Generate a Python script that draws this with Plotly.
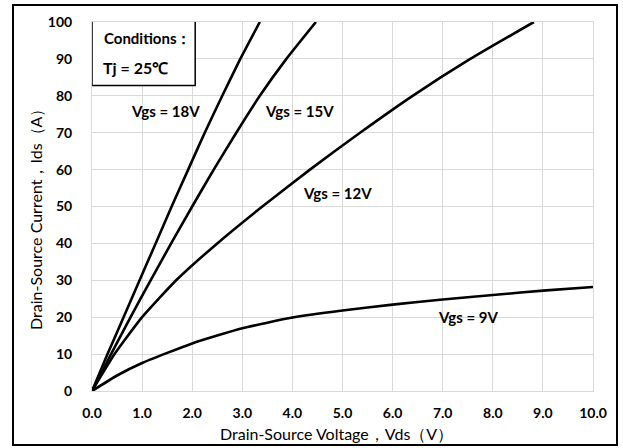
import plotly.graph_objects as go

# Data
vds_18 = [0, 0.31, 0.63, 0.95, 1.27, 1.59, 1.92, 2.25, 2.6, 2.96, 3.35]
ids_18 = [0, 10, 20, 30, 40, 50, 60, 70, 80, 90, 100]

vds_15 = [0, 0.38, 0.77, 1.17, 1.58, 2.0, 2.43, 2.88, 3.35, 3.88, 4.47]
ids_15 = [0, 10, 20, 30, 40, 50, 60, 70, 80, 90, 100]

vds_12 = [0, 0.45, 1.0, 1.68, 2.5, 3.4, 4.35, 5.35, 6.4, 7.55, 8.82]
ids_12 = [0, 10, 20, 30, 40, 50, 60, 70, 80, 90, 100]

vds_9 = [0, 0.5, 1, 2, 3, 4, 5, 6, 7, 8, 9, 10]
ids_9 = [0, 4.2, 7.6, 12.9, 17.0, 19.9, 21.8, 23.4, 24.8, 26.0, 27.2, 28.2]

series = [
    ("Vgs = 18V", vds_18, ids_18),
    ("Vgs = 15V", vds_15, ids_15),
    ("Vgs = 12V", vds_12, ids_12),
    ("Vgs = 9V", vds_9, ids_9),
]

label_text = ["Vgs = 18V", "Vgs = 15V", "Vgs = 12V", "Vgs = 9V"]
label_x = [1.46, 4.14, 4.91, 7.5]
label_y = [75.8, 75.8, 53.7, 20.0]

x_ticks = [0, 1, 2, 3, 4, 5, 6, 7, 8, 9, 10]
y_ticks = [0, 10, 20, 30, 40, 50, 60, 70, 80, 90, 100]

x_title = "Drain-Source Voltage，Vds（V）"
y_title = "Drain-Source Current，Ids（A）"

FONT = "Lato"

fig = go.Figure()
for name, xs, ys in series:
    fig.add_trace(go.Scatter(
        x=xs, y=ys, mode="lines", name=name,
        line=dict(color="black", width=2.6, shape="spline", smoothing=0.5),
        showlegend=False, hoverinfo="skip"))

for t, lx, ly in zip(label_text, label_x, label_y):
    fig.add_annotation(x=lx, y=ly, text="<b>" + t + "</b>", showarrow=False,
                       font=dict(family=FONT, size=15, color="black"),
                       xanchor="center", yanchor="middle")

# Conditions box
fig.add_shape(type="rect", xref="x", yref="y", x0=0, x1=2.06, y0=82.8, y1=100.4,
              line=dict(color="black", width=1.5), fillcolor="white", layer="above")
fig.add_annotation(x=0.2, y=95.7, xref="x", yref="y", text="<b>Conditions：</b>",
                   showarrow=False, xanchor="left", yanchor="middle",
                   font=dict(family=FONT, size=15, color="black"))
fig.add_annotation(x=0.18, y=87.8, xref="x", yref="y", text="<b>Tj = 25℃</b>",
                   showarrow=False, xanchor="left", yanchor="middle",
                   font=dict(family=FONT, size=16, color="black"))

# Axis titles
fig.add_annotation(x=0.489, y=-0.116, xref="paper", yref="paper", text=x_title,
                   showarrow=False, xanchor="center", yanchor="middle",
                   font=dict(family=FONT, size=16, color="black"))
fig.add_annotation(x=-0.112, y=0.477, xref="paper", yref="paper", text=y_title,
                   showarrow=False, xanchor="center", yanchor="middle", textangle=-90,
                   font=dict(family=FONT, size=16, color="black"))

# Outer chart border
fig.add_shape(type="rect", xref="paper", yref="paper",
              x0=-0.1577, x1=1.0479, y0=-0.1466, y1=1.0461,
              line=dict(color="black", width=2), layer="above")

fig.update_layout(
    width=623, height=448,
    margin=dict(l=92, r=30, t=22, b=57, autoexpand=False),
    paper_bgcolor="white", plot_bgcolor="white",
    font=dict(family=FONT, color="black"),
)
fig.update_xaxes(
    range=[0, 10], tickvals=x_ticks, ticktext=[f"{v:.1f}" for v in x_ticks],
    showgrid=True, gridcolor="#d9d9d9", gridwidth=1,
    zeroline=False, showline=True, linecolor="#d9d9d9", mirror=True,
    tickfont=dict(family=FONT, size=14, color="black", weight="bold"),
    ticks="", ticklen=0, ticklabelstandoff=9, automargin=False,
)
fig.update_yaxes(
    range=[0, 100], tickvals=y_ticks,
    showgrid=True, gridcolor="#d9d9d9", gridwidth=1,
    zeroline=False, showline=True, linecolor="#d9d9d9", mirror=True,
    tickfont=dict(family=FONT, size=14, color="black", weight="bold"),
    ticks="", ticklen=0, ticklabelstandoff=16, automargin=False,
)

fig.write_html("out.html",
               config={"displayModeBar": False},
               post_script="document.body.style.margin='0';document.body.style.padding='0';")
